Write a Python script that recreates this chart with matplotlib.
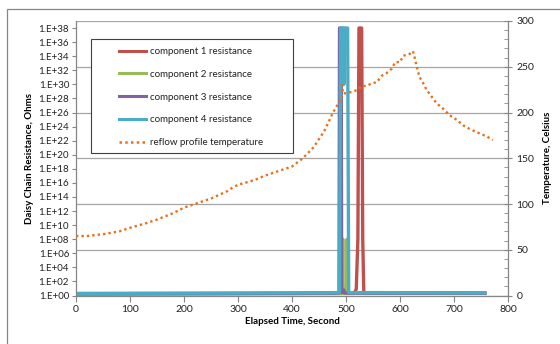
import matplotlib
matplotlib.use('Agg')
import matplotlib.pyplot as plt
from matplotlib.patches import Rectangle
from matplotlib.lines import Line2D

plt.rcParams['font.family'] = ['Lato', 'DejaVu Sans']

# resistance traces (time in s, resistance in ohms)
c1_time = [0, 300, 515, 519, 522, 524, 529, 531, 533, 757]
c1_res = [1.6, 1.8, 2.0, 8.0, 1e8, 1e38, 1e38, 1e8, 2.0, 2.0]
c2_time = [0, 300, 493, 494, 495, 501, 502, 503, 757]
c2_res = [1.7, 1.9, 2.0, 1e8, 2.0, 2.0, 1e8, 2.0, 2.1]
c3_time = [0, 300, 487, 488, 491, 492, 496, 497, 757]
c3_res = [1.8, 2.0, 2.2, 1e38, 1e38, 2.5, 6.0, 2.2, 2.2]
c4_time = [0, 300, 488, 490, 495, 496, 497, 503, 505, 757]
c4_res = [2.0, 2.2, 2.5, 1e38, 1e38, 1e30, 1e38, 1e38, 2.6, 2.4]

# reflow profile temperature
temp_time = [0, 20, 50, 80, 100, 130, 150, 180, 200, 230, 250, 280, 290, 300,
             330, 350, 380, 400, 420, 440, 460, 476, 489, 492, 493, 494, 501,
             513, 523, 529, 538, 548, 557, 566, 575, 585, 591, 600, 606, 612,
             618, 624, 628, 631, 636, 643, 649, 659, 668, 680, 692, 705, 717,
             729, 748, 760, 772]
temp_val = [65, 65, 67, 70, 74, 79, 83, 90, 96, 102, 106, 114, 118, 121,
            126, 131, 137, 141, 150, 162, 180, 200, 213, 216, 230, 221, 221,
            223, 225, 229, 229, 232, 233, 240, 243, 248, 255, 255, 262, 263,
            264, 267, 258, 250, 239, 232, 225, 217, 210, 204, 197, 192, 186,
            182, 177, 174, 170]

left_ticks = [10.0 ** k for k in range(0, 39, 2)]
left_labels = ['1.E+%02d' % k for k in range(0, 39, 2)]

colors = {'c1': '#C0504D', 'c2': '#9BBB59', 'c3': '#8064A2', 'c4': '#4BACC6',
          'temp': '#E8701C'}
axis_gray = '#868686'

fig = plt.figure(figsize=(5.6, 3.44), dpi=100)
fig.patch.set_facecolor('white')
fig.patches.append(Rectangle((7 / 560, -0.05), 1.1, (344 - 9) / 344 + 0.05,
                             transform=fig.transFigure, fill=False,
                             edgecolor=axis_gray, linewidth=0.9))

ax = fig.add_axes([76 / 560, 1 - 295.5 / 344, (508 - 76) / 560, (295.5 - 21) / 344])
ax2 = ax.twinx()

# temperature grid lines live on the right axis
ax2.set_ylim(0, 300)
ax2.set_yticks(range(0, 301, 50))
ax2.set_yticks(range(0, 301, 10), minor=True)
ax2.grid(True, axis='y', color='#a6a6a6', linewidth=0.9)
ax2.set_zorder(1)
ax.set_zorder(2)
ax.patch.set_visible(False)

ax.set_yscale('log')
ax.set_ylim(1.0, 10.0 ** 39)
ax.set_xlim(0, 800)
lw = 2.4
ax.plot(c1_time, c1_res, color=colors['c1'], linewidth=lw)
ax.plot(c2_time, c2_res, color=colors['c2'], linewidth=lw)
ax.plot(c3_time, c3_res, color=colors['c3'], linewidth=lw)
ax.plot(c4_time, c4_res, color=colors['c4'], linewidth=lw)

# temperature on its own overlay sharing the right-axis scale
ax_t = ax.twinx()
ax_t.set_ylim(0, 300)
ax_t.axis('off')
ax_t.set_zorder(3)
ax_t.plot(temp_time, temp_val, color=colors['temp'], linewidth=1.7,
          linestyle=(0, (1, 1.3)))

ax.set_yticks(left_ticks)
ax.set_yticklabels(left_labels)
ax.yaxis.set_minor_locator(matplotlib.ticker.NullLocator())
ax.set_xticks(range(0, 801, 100))

for a in (ax, ax2):
    for s in a.spines.values():
        s.set_color(axis_gray)
        s.set_linewidth(0.9)
    a.spines['top'].set_visible(False)
ax.spines['right'].set_visible(False)
ax2.spines['left'].set_visible(False)
ax2.spines['bottom'].set_visible(False)

ax.tick_params(axis='y', direction='out', length=3, color=axis_gray,
               labelsize=7, labelcolor='#222222', pad=2)
ax.tick_params(axis='x', direction='out', length=4, color=axis_gray,
               labelsize=7.5, labelcolor='#222222', pad=3)
ax2.tick_params(axis='y', which='major', direction='inout', length=6,
                color=axis_gray, labelsize=7.5, labelcolor='#222222', pad=3)
ax2.tick_params(axis='y', which='minor', direction='in', length=3,
                color=axis_gray)

ax.set_xlabel('Elapsed Time, Second', fontsize=7, fontweight='bold', labelpad=2)
ax.set_ylabel('Daisy Chain Resistance, Ohms', fontsize=7, fontweight='bold',
              labelpad=3)
ax2.set_ylabel('Temperature, Celsius', fontsize=7, fontweight='bold', labelpad=6)

# legend: Excel-style roomy box drawn by hand, entries placed inside
box_x0, box_x1, box_y0, box_y1 = 91, 293, 39, 153
fig.patches.append(Rectangle((box_x0 / 560, 1 - box_y1 / 344),
                             (box_x1 - box_x0) / 560, (box_y1 - box_y0) / 344,
                             transform=fig.transFigure, facecolor='white',
                             edgecolor='#404040', linewidth=0.8, zorder=9))
handles = [Line2D([], [], color=colors['c1'], linewidth=2.2),
           Line2D([], [], color=colors['c2'], linewidth=2.2),
           Line2D([], [], color=colors['c3'], linewidth=2.2),
           Line2D([], [], color=colors['c4'], linewidth=2.2),
           Line2D([], [], color=colors['temp'], linewidth=1.8, linestyle=(0, (1, 1.3)))]
labels = ['component 1 resistance', 'component 2 resistance',
          'component 3 resistance', 'component 4 resistance',
          'reflow profile temperature']
leg = fig.legend(handles, labels, loc='upper left',
                 bbox_to_anchor=(119 / 560, 1 - 47 / 344),
                 fontsize=7, frameon=False, handlelength=2.8,
                 handletextpad=0.35, labelspacing=1.42, borderpad=0,
                 borderaxespad=0)
for t in leg.get_texts():
    t.set_color('#222222')
leg.set_zorder(10)

fig.savefig('out.png', dpi=100, facecolor='white')
